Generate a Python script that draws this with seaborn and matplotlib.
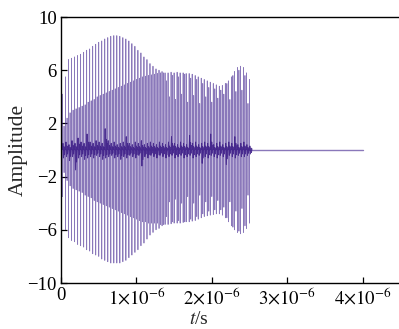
import numpy as np
import pandas as pd
import matplotlib
matplotlib.use("Agg")
import matplotlib.pyplot as plt
from matplotlib.ticker import FixedLocator, FuncFormatter
import seaborn as sns

# Pulse timing (microseconds): strong train and weak train interleaved
outer_start, inner_start, period = 0.02, 0.04, 0.04
t_end = 4.0

# Strong pulse train: positive peaks and negative peak magnitudes
outer_up = [4.2, 5.5, 6.8, 6.9, 7.0, 7.1, 7.2, 7.35, 7.5, 7.6, 7.8, 7.95, 8.1, 8.2, 8.35,
            8.45, 8.55, 8.6, 8.6, 8.55, 8.45, 8.35, 8.2, 8.0, 7.8, 7.5, 7.3, 7.0, 6.8, 6.5,
            6.3, 6.1, 6.0, 5.9, 5.8, 5.8, 5.85, 5.8, 5.85, 5.8, 5.8, 5.75, 5.75, 5.7, 5.6,
            5.5, 5.4, 5.3, 5.2, 5.1, 5.0, 4.9, 4.8, 4.85, 5.0, 5.2, 5.5, 5.9, 6.2, 6.3,
            6.2, 5.8, 5.3]
outer_down = [3.5, 6.0, 6.6, 6.8, 6.9, 7.1, 7.2, 7.3, 7.5, 7.6, 7.8, 7.9, 8.0, 8.2, 8.3,
              8.4, 8.5, 8.5, 8.5, 8.5, 8.4, 8.3, 8.1, 7.9, 7.7, 7.5, 7.2, 7.0, 6.7, 6.4,
              6.2, 6.0, 5.9, 5.7, 5.6, 5.6, 5.55, 5.5, 5.5, 5.5, 5.45, 5.4, 5.4, 5.35, 5.3,
              5.2, 5.1, 5.0, 4.95, 4.9, 4.85, 4.8, 4.8, 4.9, 5.1, 5.4, 5.7, 6.0, 6.2, 6.3,
              6.2, 5.9, 5.5]

# Weak pulse train, between the strong pulses
inner_up = [1.8, 2.4, 2.8, 3.0, 3.1, 3.2, 3.3, 3.4, 3.6, 3.7, 3.8, 4.0, 4.1, 4.2, 4.3,
            4.4, 4.5, 4.6, 4.7, 4.8, 4.9, 5.0, 5.1, 5.2, 5.3, 5.4, 5.5, 5.55, 5.6, 5.65,
            5.7, 5.75, 5.8, 5.8, 5.2, 4.0, 5.6, 3.8, 5.5, 4.2, 5.7, 3.6, 5.4, 4.1, 5.3,
            3.5, 5.0, 4.0, 4.7, 3.6, 4.6, 3.9, 4.5, 4.2, 5.0, 3.8, 5.6, 4.4, 6.0, 4.5,
            5.6, 3.5]
inner_down = [1.7, 2.3, 2.7, 2.9, 3.0, 3.1, 3.2, 3.4, 3.5, 3.6, 3.8, 3.9, 4.0, 4.1, 4.2,
              4.3, 4.4, 4.5, 4.6, 4.7, 4.8, 4.9, 5.0, 5.1, 5.2, 5.3, 5.4, 5.4, 5.5, 5.5,
              5.5, 5.5, 5.6, 5.6, 5.0, 3.9, 5.4, 3.7, 5.3, 4.0, 5.4, 3.5, 5.2, 4.0, 5.0,
              3.4, 4.8, 3.9, 4.6, 3.5, 4.5, 3.8, 4.5, 4.3, 5.1, 3.9, 5.8, 4.6, 6.1, 4.4,
              5.7, 3.4]

# Low-level ringing between pulses (positive / negative excursions per period)
ring_hi = [0.5, 0.6, 0.4, 0.7, 0.5, 0.9, 0.6, 0.5, 1.2, 0.6, 0.5, 0.7, 0.6, 0.5, 1.6,
           0.7, 0.5, 0.6, 0.4, 0.5, 0.6, 1.0, 0.5, 0.4, 0.6, 0.5, 0.7, 0.4, 0.5, 0.6,
           0.5, 0.4, 0.6, 0.5, 0.4, 0.6, 1.0, 0.5, 0.4, 0.6, 0.5, 0.4, 1.1, 0.5, 0.6,
           0.4, 0.5, 0.6, 0.5, 1.2, 0.4, 0.5, 0.6, 0.4, 0.5, 0.6, 0.5, 1.0, 0.4, 0.5,
           0.6, 0.4, 0.3]
ring_lo = [0.6, 0.5, 0.8, 0.5, 1.5, 0.6, 0.5, 0.7, 0.6, 0.5, 0.6, 0.4, 0.5, 0.7, 0.6,
           0.5, 0.4, 0.6, 0.5, 0.7, 0.5, 0.6, 0.4, 0.5, 0.6, 0.4, 1.2, 0.5, 0.6, 0.4,
           0.5, 0.6, 0.4, 0.5, 0.6, 0.5, 0.4, 0.6, 0.5, 0.4, 0.6, 0.5, 0.4, 0.6, 0.5,
           0.4, 1.0, 0.5, 0.6, 0.4, 0.5, 0.6, 0.4, 0.5, 1.1, 0.4, 0.5, 0.6, 0.4, 0.5,
           0.5, 0.4, 0.3]

ytick_vals = [-10, -6, -2, 2, 6, 10]
xtick_vals = [0, 1e-6, 2e-6, 3e-6, 4e-6]

US = 1e-6
dt = 0.0004  # rise/fall time of a pulse stroke, microseconds

# Build the pulse trace, the low-level ringing trace and the quiet tail
pulses = [(outer_start + i * period, u, d) for i, (u, d) in enumerate(zip(outer_up, outer_down))]
pulses += [(inner_start + i * period, u, d) for i, (u, d) in enumerate(zip(inner_up, inner_down))]
pulses.sort(key=lambda p: p[0])

trace_t, trace_a = [0.0], [0.0]
for t0, u, d in pulses:
    trace_t += [t0, t0 + dt, t0 + 2 * dt, t0 + 3 * dt]
    trace_a += [0.0, u, -d, 0.0]
last_t = pulses[-1][0] + 4 * dt
trace_t.append(last_t)
trace_a.append(0.0)

ring_t, ring_a = [], []
offsets = [0.0, 0.006, 0.013, 0.020, 0.027, 0.034]
for i, (hi, lo) in enumerate(zip(ring_hi, ring_lo)):
    t0 = outer_start + i * period
    vals = [0.05, hi, -lo, 0.5 * hi, -0.6 * lo, 0.3 * hi]
    ring_t += [t0 + o for o in offsets]
    ring_a += vals
ring_t.append(last_t)
ring_a.append(0.0)

df_trace = pd.DataFrame({"t": np.array(trace_t) * US, "amp": trace_a})
df_ring = pd.DataFrame({"t": np.array(ring_t) * US, "amp": ring_a})
df_tail = pd.DataFrame({"t": np.array([last_t, t_end]) * US, "amp": [0.0, 0.0]})

sns.set_theme(style="white")
plt.rcParams["font.family"] = ["Liberation Serif", "DejaVu Serif"]
plt.rcParams["mathtext.fontset"] = "stix"
plt.rcParams["axes.unicode_minus"] = True

fig = plt.figure(figsize=(3.99, 3.29), dpi=100)
W, H = 399, 329
left, right, top, bottom = 61, 418, 17, 283
ax = fig.add_axes([left / W, 1 - bottom / H, (right - left) / W, (bottom - top) / H])

sns.lineplot(data=df_trace, x="t", y="amp", sort=False, estimator=None,
             color="#3D1E8C", alpha=0.6, linewidth=0.55, ax=ax)
sns.lineplot(data=df_ring, x="t", y="amp", sort=False, estimator=None,
             color="#3A1A85", alpha=0.85, linewidth=0.7, ax=ax)
sns.lineplot(data=df_tail, x="t", y="amp", estimator=None,
             color="#3D1E8C", alpha=0.6, linewidth=1.0, ax=ax)

px_per_unit = (362.5 - left) / 4e-6
ax.set_xlim(0, (right - left) / px_per_unit)
ax.set_ylim(-10, 10)
ax.yaxis.set_major_locator(FixedLocator(ytick_vals))
ax.xaxis.set_major_locator(FixedLocator(xtick_vals))


def fmt_x(v, pos):
    k = int(round(v / 1e-6))
    return "0" if k == 0 else r"$%d{\times}10^{-6}$" % k


ax.xaxis.set_major_formatter(FuncFormatter(fmt_x))
ax.yaxis.set_major_formatter(FuncFormatter(lambda v, p: ("\u2212%d" % -v) if v < 0 else "%d" % v))

for s in ax.spines.values():
    s.set_visible(True)
    s.set_color("black")
    s.set_linewidth(1.0)
ax.tick_params(direction="in", length=4, width=0.9, colors="black",
               labelsize=13.5, pad=3, left=True, bottom=True)
ax.set_xlabel(r"$t$/s", fontsize=14)
ax.set_ylabel("Amplitude", fontsize=15.5)
ax.xaxis.set_label_coords((199 - left) / (right - left), -(311 - bottom) / (bottom - top))
ax.yaxis.set_label_coords(-(left - 28) / (right - left), 0.5)

fig.savefig("out.png", dpi=100)
